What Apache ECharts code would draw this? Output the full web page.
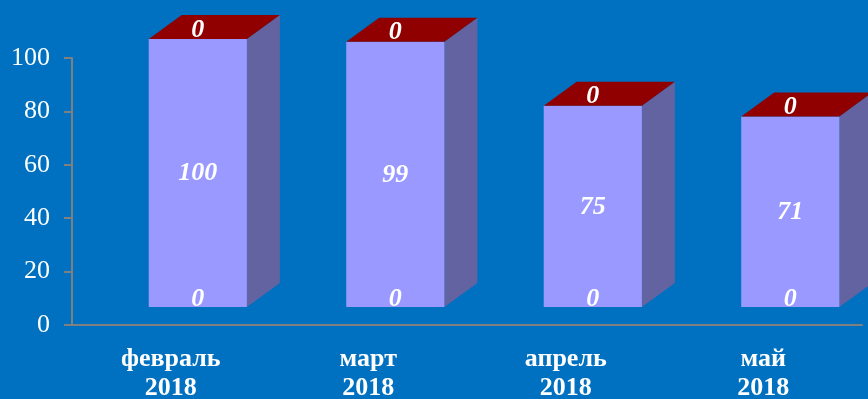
<!DOCTYPE html>
<html>
<head>
    <meta charset="utf-8">
    <title>ECharts</title>
    <script src="https://cdn.jsdelivr.net/npm/echarts@6/dist/echarts.min.js"></script>
    <style type="text/css">
        html, body { margin: 0; padding: 0; background: #0070C0; }
        #main { width: 868px; height: 399px; }
    </style>
</head>
<body>
<div id="main"></div>
<script type="text/javascript">
    // данные
    var months = ['февраль\n2018', 'март\n2018', 'апрель\n2018', 'май\n2018'];
    var bottomVals = [0, 0, 0, 0];
    var middleVals = [100, 99, 75, 71];
    var topVals = [0, 0, 0, 0];
    var yTicks = [0, 20, 40, 60, 80, 100];

    var barData = months.map(function (m, i) {
        return [i, bottomVals[i], middleVals[i], topVals[i]];
    });

    var labelFont = {
        fill: '#fff',
        fontFamily: 'Liberation Serif',
        fontWeight: 'bold',
        fontStyle: 'italic',
        fontSize: 26,
        align: 'center',
        verticalAlign: 'middle'
    };

    function renderBar(params, api) {
        var i = api.value(0);
        var lo = api.value(1), mid = api.value(2), hi = api.value(3);
        var band = api.size([1, 0])[0];
        var center = api.coord([i, 0]);
        var w = band * 0.497;
        var dx = band * 0.167, dy = 24, lift = 18;
        var x0 = center[0] + band * 0.137 - w / 2;
        var yBase = api.coord([i, 0])[1] - lift;
        var yLo = api.coord([i, lo])[1] - lift;
        var yMid = api.coord([i, lo + mid])[1] - lift;
        var yTop = api.coord([i, lo + mid + hi])[1] - lift - 1;
        var cx = x0 + w / 2;
        var kids = [
            {type: 'polygon', shape: {points: [[x0 + w, yBase], [x0 + w + dx, yBase - dy], [x0 + w + dx, yTop - dy], [x0 + w, yTop]]},
                style: {fill: '#6363A1'}},
            {type: 'rect', shape: {x: x0, y: yTop, width: w, height: yBase - yTop},
                style: {fill: '#9999FF'}},
            {type: 'polygon', shape: {points: [[x0, yTop], [x0 + dx, yTop - dy], [x0 + w + dx, yTop - dy], [x0 + w, yTop]]},
                style: {fill: '#900000'}},
            {type: 'text', x: cx, y: yBase - 8, style: Object.assign({text: String(lo)}, labelFont)},
            {type: 'text', x: cx, y: (yLo + yMid) / 2, style: Object.assign({text: String(mid)}, labelFont)},
            {type: 'text', x: cx, y: yTop - 9, style: Object.assign({text: String(hi)}, labelFont)}
        ];
        return {type: 'group', children: kids};
    }

    var chart = echarts.init(document.getElementById('main'));
    chart.setOption({
        backgroundColor: '#0070C0',
        animation: false,
        grid: {left: 72, right: 6, top: 58, bottom: 74, containLabel: false, outerBoundsMode: 'none'},
        xAxis: {
            type: 'category',
            data: months,
            boundaryGap: true,
            axisLine: {lineStyle: {color: '#808080', width: 2}},
            axisTick: {length: 7, lineStyle: {color: '#808080', width: 2}},
            axisLabel: {
                color: '#fff',
                fontFamily: 'Liberation Serif',
                fontWeight: 'bold',
                fontSize: 26,
                lineHeight: 29,
                margin: 20
            }
        },
        yAxis: {
            type: 'value',
            min: yTicks[0],
            max: yTicks[yTicks.length - 1],
            interval: 20,
            splitLine: {show: false},
            axisLine: {show: true, lineStyle: {color: '#808080', width: 2}},
            axisTick: {show: true, length: 8, lineStyle: {color: '#808080', width: 2}},
            axisLabel: {
                color: '#fff',
                fontFamily: 'Liberation Serif',
                fontSize: 26,
                margin: 22
            }
        },
        series: [{
            type: 'custom',
            renderItem: renderBar,
            clip: false,
            data: barData
        }]
    });
</script>
</body>
</html>
